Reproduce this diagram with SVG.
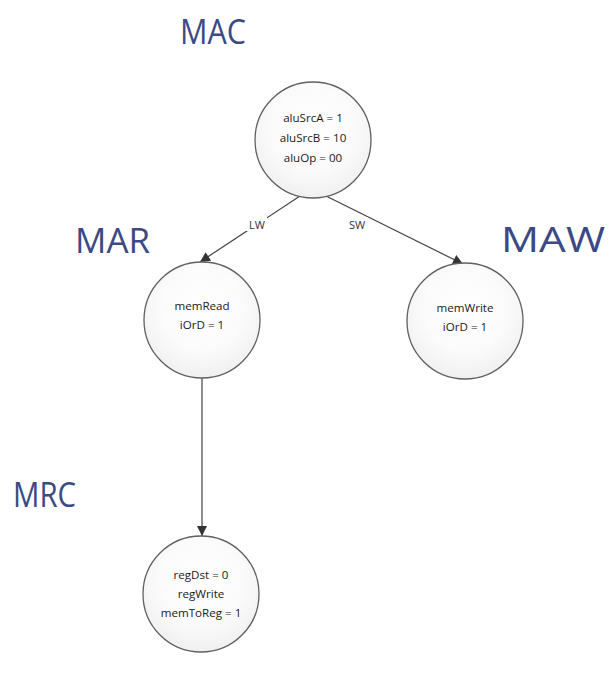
<svg xmlns="http://www.w3.org/2000/svg" width="610" height="698" viewBox="0 0 610 698">
<defs>
<radialGradient id="g" cx="50%" cy="40%" r="60%">
<stop offset="0" stop-color="#ffffff"/>
<stop offset="0.6" stop-color="#fbfbfb"/>
<stop offset="1" stop-color="#f0f0f0"/>
</radialGradient>
<marker id="ah" viewBox="0 0 10 10" refX="10" refY="5" markerWidth="11" markerHeight="10" markerUnits="userSpaceOnUse" orient="auto">
<path d="M0,0 L10,5 L0,10 z" fill="#333"/>
</marker>
<style>
.st{fill:url(#g);stroke:#606060;stroke-width:1.3}
.t{font-family:"Open Sans","Liberation Sans",sans-serif;font-size:11.6px;fill:#1a1a1a;text-anchor:middle}
.big{font-family:"Open Sans","Liberation Sans",sans-serif;font-size:35px;fill:#3b4a84}
.lbl{font-family:"Open Sans","Liberation Sans",sans-serif;font-size:11px;fill:#333;text-anchor:middle}
.e{stroke:#444;stroke-width:1.2;fill:none;marker-end:url(#ah)}
</style>
</defs>
<rect width="610" height="698" fill="#fff"/>
<g id="connectors">
<line class="e" x1="300" y1="196" x2="200" y2="262"/>
<line class="e" x1="326" y1="196" x2="463" y2="264"/>
<line class="e" x1="202" y1="377" x2="202" y2="536"/>
<rect x="245" y="217" width="22" height="14" fill="#fff"/>
<text class="lbl" x="257" y="229">LW</text>
<rect x="346" y="217" width="22" height="14" fill="#fff"/>
<text class="lbl" x="357" y="229">SW</text>
</g>
<g id="MAC">
<text class="big" x="180" y="44" textLength="66" lengthAdjust="spacingAndGlyphs">MAC</text>
<circle class="st" cx="313" cy="140" r="58"/>
<text class="t" x="313" y="122">aluSrcA = 1</text>
<text class="t" x="313" y="142">aluSrcB = 10</text>
<text class="t" x="313" y="162">aluOp = 00</text>
</g>
<g id="MAR">
<text class="big" x="75" y="253" textLength="75" lengthAdjust="spacingAndGlyphs">MAR</text>
<circle class="st" cx="202" cy="320" r="58"/>
<text class="t" x="202" y="310">memRead</text>
<text class="t" x="202" y="329">iOrD = 1</text>
</g>
<g id="MAW">
<text class="big" x="501" y="252" textLength="104" lengthAdjust="spacingAndGlyphs">MAW</text>
<circle class="st" cx="465" cy="321" r="58"/>
<text class="t" x="465" y="312">memWrite</text>
<text class="t" x="465" y="331">iOrD = 1</text>
</g>
<g id="MRC">
<text class="big" x="13" y="507" textLength="63" lengthAdjust="spacingAndGlyphs">MRC</text>
<circle class="st" cx="201" cy="594" r="58"/>
<text class="t" x="201" y="579">regDst = 0</text>
<text class="t" x="201" y="598">regWrite</text>
<text class="t" x="201" y="617">memToReg = 1</text>
</g>
</svg>
